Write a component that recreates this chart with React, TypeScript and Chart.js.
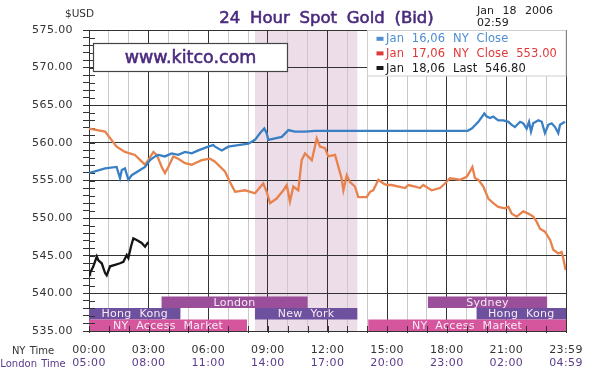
import React, { useEffect, useRef } from 'react';
import { Chart, registerables } from 'chart.js';

Chart.register(...registerables);

// ---------- data ----------
const jan16Hours = [0, 0.30, 0.81, 1.39, 1.56, 1.65, 1.81, 1.98, 2.15, 2.57, 2.82, 3.07, 3.32, 3.49, 3.82, 4.16, 4.49, 4.83, 5.17, 5.50, 6.00, 6.25, 6.34, 6.68, 7.01, 7.51, 8.02, 8.35, 8.61, 8.82, 8.94, 9.02, 9.36, 9.70, 10.03, 10.36, 10.87, 11.37, 19.05, 19.26, 19.59, 19.89, 20.01, 20.18, 20.34, 20.59, 20.85, 21.10, 21.27, 21.43, 21.69, 21.85, 22.02, 22.14, 22.24, 22.35, 22.61, 22.78, 22.94, 23.11, 23.28, 23.45, 23.61, 23.70, 23.95];
const jan16Values = [556.0, 556.2, 556.6, 556.8, 555.3, 556.4, 556.6, 555.1, 555.7, 556.4, 556.8, 557.7, 558.2, 558.4, 558.2, 558.6, 558.4, 558.8, 558.6, 559.0, 559.5, 559.7, 559.5, 559.0, 559.5, 559.7, 559.9, 560.4, 561.3, 561.9, 561.3, 560.4, 560.6, 560.8, 561.7, 561.5, 561.5, 561.6, 561.6, 561.9, 562.8, 563.9, 563.5, 563.3, 563.5, 563.0, 563.0, 562.8, 562.4, 562.1, 562.8, 562.6, 561.9, 562.8, 561.5, 562.6, 563.0, 562.8, 561.3, 562.4, 562.6, 562.1, 561.3, 562.4, 562.8];

const jan17Hours = [0, 0.81, 1.39, 1.81, 2.31, 2.82, 2.98, 3.24, 3.41, 3.66, 3.82, 3.99, 4.24, 4.49, 4.83, 5.17, 5.67, 6.09, 6.34, 6.84, 7.09, 7.35, 7.85, 8.35, 8.77, 8.94, 9.11, 9.44, 9.78, 9.95, 10.11, 10.28, 10.53, 10.70, 10.87, 11.21, 11.46, 11.62, 11.87, 12.04, 12.38, 12.55, 12.71, 12.80, 12.97, 13.13, 13.38, 13.55, 13.97, 14.14, 14.30, 14.56, 14.81, 14.98, 15.23, 15.90, 16.07, 16.40, 16.65, 16.82, 17.24, 17.66, 17.91, 18.16, 18.67, 19.00, 19.17, 19.29, 19.42, 19.59, 19.84, 20.09, 20.34, 20.59, 20.93, 21.10, 21.27, 21.52, 21.85, 22.10, 22.35, 22.53, 22.69, 22.94, 23.20, 23.36, 23.61, 23.78, 23.86, 23.98];
const jan17Values = [561.9, 561.5, 559.5, 558.8, 558.4, 557.1, 557.7, 558.8, 558.4, 556.8, 556.0, 556.8, 558.2, 557.9, 557.3, 557.1, 557.7, 557.9, 557.5, 556.2, 554.8, 553.5, 553.7, 553.3, 554.6, 553.5, 552.0, 552.6, 553.7, 554.4, 552.2, 554.2, 553.7, 557.7, 558.6, 557.7, 560.6, 559.5, 559.3, 558.2, 558.4, 556.8, 555.3, 553.7, 555.7, 554.8, 554.2, 552.8, 552.8, 553.5, 553.7, 555.1, 554.6, 554.4, 554.4, 554.0, 554.4, 554.2, 554.0, 554.4, 553.7, 554.0, 554.6, 555.3, 555.1, 555.5, 556.2, 556.8, 555.3, 555.1, 554.2, 552.6, 552.0, 551.5, 551.3, 551.5, 550.6, 550.2, 550.9, 550.6, 550.2, 549.5, 548.6, 548.2, 547.1, 545.8, 545.3, 545.5, 544.7, 543.1];

const jan18Hours = [0, 0.05, 0.22, 0.39, 0.47, 0.64, 0.81, 0.89, 1.06, 1.31, 1.56, 1.73, 1.90, 1.98, 2.11, 2.23, 2.40, 2.65, 2.82, 2.98];
const jan18Values = [542.9, 542.7, 543.6, 544.9, 544.4, 544.0, 542.7, 542.4, 543.6, 543.8, 544.0, 544.2, 545.1, 544.7, 546.2, 547.3, 547.1, 546.7, 546.2, 546.8];

const legendLabels = ['Jan 16,06 NY Close', 'Jan 17,06 NY Close 553.00', 'Jan 18,06 Last 546.80'];

const nyTimeLabels = ['00:00', '03:00', '06:00', '09:00', '12:00', '15:00', '18:00', '21:00', '23:59'];
const londonTimeLabels = ['05:00', '08:00', '11:00', '14:00', '17:00', '20:00', '23:00', '02:00', '04:59'];

const sessionNames = ['London', 'Hong Kong', 'New York', 'NY Access Market', 'Sydney', 'Hong Kong', 'NY Access Market'];
const sessionStarts = [3.65, 0, 8.35, 0, 17.05, 19.5, 14.05];
const sessionEnds = [11.0, 4.6, 13.5, 7.95, 23.05, 24, 24];
const sessionRows = [0, 1, 1, 2, 0, 1, 2];

const highlightHours = [8.35, 13.5];

const yMin = 535;
const yMax = 575;
const xMin = 0;
const xMax = 24;

// ---------- styles ----------
const rowColors = ['#9b4f9a', '#6d509e', '#d5569d'];
const lineColors = ['#3a7fc4', '#e8824c', '#151515'];
const legendColors = ['#4d8fd0', '#e0383a', '#1a1a1a'];
const purple = '#4b2b7e';
const FONT = '"DejaVu Sans", sans-serif';

const toPoints = (hs: number[], vs: number[]) => hs.map((h, i) => ({ x: h, y: vs[i] }));

const kitcoPlugin = {
  id: 'kitcoDecor',
  beforeDraw(chart: any) {
    const { ctx, chartArea: a } = chart;
    const x = chart.scales.x;
    ctx.save();
    ctx.fillStyle = '#ffffff';
    ctx.fillRect(0, 0, chart.width, chart.height);
    const b0 = x.getPixelForValue(highlightHours[0]);
    const b1 = x.getPixelForValue(highlightHours[1]);
    ctx.fillStyle = '#ecdde8';
    ctx.fillRect(b0, a.top, b1 - b0, a.bottom - a.top);
    ctx.restore();
    ctx.letterSpacing = '0.4px';
  },
  beforeDatasetsDraw(chart: any) {
    const { ctx, chartArea: a } = chart;
    const x = chart.scales.x;
    const y = chart.scales.y;
    ctx.save();
    const rowH = 11.5;
    sessionNames.forEach((name, i) => {
      const row = sessionRows[i];
      const top = a.bottom - (3 - row) * rowH;
      const l = x.getPixelForValue(sessionStarts[i]);
      const r = x.getPixelForValue(sessionEnds[i]);
      ctx.fillStyle = rowColors[row];
      ctx.fillRect(l, top, r - l, rowH);
    });
    sessionNames.forEach((name, i) => {
      const row = sessionRows[i];
      const top = a.bottom - (3 - row) * rowH;
      const l = x.getPixelForValue(sessionStarts[i]);
      const r = x.getPixelForValue(sessionEnds[i]);
      ctx.fillStyle = '#f7e9f5';
      ctx.font = '11px ' + FONT;
      ctx.textAlign = 'center';
      ctx.textBaseline = 'middle';
      ctx.letterSpacing = '0.3px';
      ctx.wordSpacing = '4px';
      ctx.fillText(name, (l + r) / 2, top + rowH / 2 + 0.5);
    });
    ctx.strokeStyle = '#333';
    ctx.lineWidth = 1;
    ctx.beginPath();
    for (let v = yMin; v <= yMax; v++) {
      const py = Math.round(y.getPixelForValue(v)) + 0.5;
      ctx.moveTo(a.left, py);
      ctx.lineTo(a.left + 6, py);
    }
    for (let h = xMin; h <= xMax; h++) {
      const px = Math.round(x.getPixelForValue(h)) + 0.5;
      ctx.moveTo(px, a.bottom - 5);
      ctx.lineTo(px, a.bottom + 2);
    }
    ctx.moveTo(a.left, Math.round(a.bottom) + 0.5);
    ctx.lineTo(a.right, Math.round(a.bottom) + 0.5);
    ctx.stroke();
    ctx.restore();
  },
  afterDatasetsDraw(chart: any) {
    const { ctx, chartArea: a } = chart;
    ctx.save();
    // kitco box
    ctx.fillStyle = '#ffffff';
    ctx.fillRect(93.5, 43.5, 194, 28);
    ctx.strokeStyle = '#444';
    ctx.lineWidth = 1.2;
    ctx.strokeRect(93.5, 43.5, 194, 28);
    ctx.fillStyle = purple;
    ctx.strokeStyle = purple;
    ctx.lineWidth = 0.6;
    ctx.font = '17.5px ' + FONT;
    ctx.textAlign = 'center';
    ctx.textBaseline = 'alphabetic';
    ctx.letterSpacing = '0px';
    ctx.fillText('www.kitco.com', 190.5, 63);
    ctx.strokeText('www.kitco.com', 190.5, 63);

    // legend box
    const lx = 367.5;
    const lw = a.right - lx;
    ctx.fillStyle = '#ffffff';
    ctx.fillRect(lx, a.top + 0.5, lw, 45.5);
    ctx.strokeStyle = '#cfcfcf';
    ctx.lineWidth = 1;
    ctx.strokeRect(lx, a.top + 0.5, lw, 45.5);
    ctx.font = '11.5px ' + FONT;
    ctx.textAlign = 'left';
    ctx.wordSpacing = '4px';
    ctx.letterSpacing = '0.1px';
    legendLabels.forEach((t, i) => {
      const base = 42.3 + i * 14.6;
      ctx.fillStyle = legendColors[i];
      ctx.fillRect(376.5, base - 5.5, 7, 4);
      ctx.fillText(t, 386, base);
    });
    ctx.restore();
  },
  afterDraw(chart: any) {
    const { ctx } = chart;
    ctx.save();
    ctx.textBaseline = 'alphabetic';
    ctx.letterSpacing = '0px';
    // title
    ctx.fillStyle = purple;
    ctx.strokeStyle = purple;
    ctx.lineWidth = 0.6;
    ctx.font = '16.5px ' + FONT;
    ctx.textAlign = 'center';
    ctx.wordSpacing = '4.5px';
    ctx.fillText('24 Hour Spot Gold (Bid)', 326.5, 23);
    ctx.strokeText('24 Hour Spot Gold (Bid)', 326.5, 23);
    // $USD
    ctx.fillStyle = '#333';
    ctx.font = '10.5px ' + FONT;
    ctx.textAlign = 'left';
    ctx.wordSpacing = '0px';
    ctx.fillText('$USD', 65, 17);
    // date
    ctx.font = '11px ' + FONT;
    ctx.wordSpacing = '5px';
    ctx.fillStyle = '#222';
    ctx.fillText('Jan 18 2006', 477, 13.5);
    ctx.fillText('02:59', 477, 25.5);
    // axis row labels
    ctx.textAlign = 'center';
    ctx.wordSpacing = '1px';
    ctx.font = '10px ' + FONT;
    ctx.fillStyle = '#333';
    ctx.fillText('NY Time', 33, 353.5);
    ctx.fillStyle = '#5b3b8c';
    ctx.fillText('London Time', 33, 366.5);
    ctx.restore();
  },
};

export default function App() {
  const canvasRef = useRef<HTMLCanvasElement | null>(null);

  useEffect(() => {
    const canvas = canvasRef.current;
    if (!canvas) return;
    const chart = new Chart(canvas, {
      type: 'line',
      data: {
        datasets: [
          {
            label: legendLabels[0],
            data: toPoints(jan16Hours, jan16Values),
            borderColor: lineColors[0],
            borderWidth: 2.3,
            pointRadius: 0,
            tension: 0,
          },
          {
            label: legendLabels[1],
            data: toPoints(jan17Hours, jan17Values),
            borderColor: lineColors[1],
            borderWidth: 2.3,
            pointRadius: 0,
            tension: 0,
          },
          {
            label: legendLabels[2],
            data: toPoints(jan18Hours, jan18Values),
            borderColor: lineColors[2],
            borderWidth: 2.3,
            pointRadius: 0,
            tension: 0,
          },
        ],
      },
      options: {
        responsive: false,
        animation: false,
        devicePixelRatio: 1,
        layout: { padding: { left: 0, right: 30, top: 30, bottom: 0 } },
        plugins: {
          legend: { display: false },
          title: { display: false },
          tooltip: { enabled: false },
        },
        scales: {
          x: {
            type: 'linear',
            position: 'bottom',
            min: xMin,
            max: xMax,
            afterFit: (s: any) => { s.height = 25; },
            border: { display: false },
            grid: {
              drawTicks: false,
              color: (c: any) => (c.tick && c.tick.value % 3 === 0 ? '#333333' : '#c9c9c9'),
              lineWidth: 1,
            },
            ticks: {
              stepSize: 1,
              autoSkip: false,
              maxRotation: 0,
              padding: 13,
              color: '#333',
              font: { family: 'DejaVu Sans', size: 11 },
              callback: (v: any) => {
                if (v === xMax) return nyTimeLabels[nyTimeLabels.length - 1];
                return v % 3 === 0 ? nyTimeLabels[v / 3] : '';
              },
            },
          },
          x2: {
            type: 'linear',
            position: 'bottom',
            min: xMin,
            max: xMax,
            afterFit: (s: any) => { s.height = 22; },
            border: { display: false },
            grid: { display: false, drawTicks: false },
            ticks: {
              stepSize: 1,
              autoSkip: false,
              maxRotation: 0,
              padding: 1,
              color: '#5b3b8c',
              font: { family: 'DejaVu Sans', size: 11 },
              callback: (v: any) => {
                if (v === xMax) return londonTimeLabels[londonTimeLabels.length - 1];
                return v % 3 === 0 ? londonTimeLabels[v / 3] : '';
              },
            },
          },
          y: {
            type: 'linear',
            position: 'left',
            min: yMin,
            max: yMax,
            afterFit: (s: any) => { s.width = 89; },
            border: { display: true, color: '#333' },
            grid: {
              color: (c: any) => (c.tick && c.tick.value % 5 === 0 ? '#333333' : 'rgba(0,0,0,0)'),
              tickColor: '#333',
              tickLength: 6,
              lineWidth: 1,
            },
            ticks: {
              stepSize: 1,
              autoSkip: false,
              padding: 10,
              color: '#333',
              font: { family: 'DejaVu Sans', size: 11 },
              callback: (v: any) => (v % 5 === 0 ? Number(v).toFixed(2) : ''),
            },
          },
        },
      },
      plugins: [kitcoPlugin],
    } as any);
    return () => chart.destroy();
  }, []);

  return (
    <div style={{ position: 'fixed', left: 0, top: 0, width: 596, height: 378, background: '#fff' }}>
      <canvas ref={canvasRef} width={596} height={378} style={{ width: 596, height: 378, display: 'block' }} />
    </div>
  );
}
